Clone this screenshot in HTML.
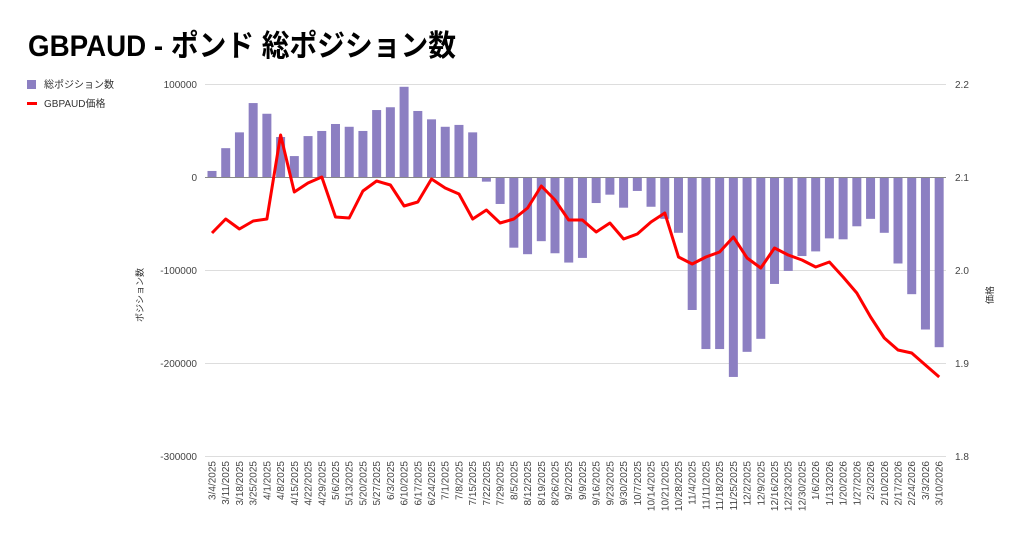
<!DOCTYPE html>
<html><head><meta charset="utf-8"><style>
body{margin:0;background:#fff;width:1024px;height:540px;overflow:hidden;font-family:"Liberation Sans","Noto Sans CJK JP",sans-serif}
</style></head><body>
<svg id="c" width="1024" height="540" xmlns="http://www.w3.org/2000/svg" font-family="Liberation Sans, Noto Sans CJK JP, sans-serif">
<text x="28" y="56" font-size="30" font-weight="bold" fill="#000" textLength="428" lengthAdjust="spacingAndGlyphs">GBPAUD - ポンド 総ポジション数</text>
<rect x="27" y="80" width="9" height="9" fill="#8c7fc2"/>
<text x="44" y="88" font-size="10" fill="#333">総ポジション数</text>
<rect x="27" y="102" width="10" height="3" fill="#f00"/>
<text x="44" y="107" font-size="10" fill="#333">GBPAUD価格</text>
<g stroke="#ddd" stroke-width="1">
<line x1="205" x2="946" y1="84.5" y2="84.5"/>
<line x1="205" x2="946" y1="270.5" y2="270.5"/>
<line x1="205" x2="946" y1="363.5" y2="363.5"/>
<line x1="205" x2="946" y1="456.5" y2="456.5"/>
</g>
<g font-size="10" fill="#444" text-anchor="end">
<text x="197" y="88">100000</text><text x="197" y="181">0</text><text x="197" y="274">-100000</text><text x="197" y="367">-200000</text><text x="197" y="460">-300000</text>
</g>
<g font-size="10" fill="#444">
<text x="955" y="88">2.2</text><text x="955" y="181">2.1</text><text x="955" y="274">2.0</text><text x="955" y="367">1.9</text><text x="955" y="460">1.8</text>
</g>
<text transform="translate(143,295) rotate(-90)" font-size="9" fill="#333" text-anchor="middle">ポジション数</text>
<text transform="translate(993,295) rotate(-90)" font-size="9" fill="#333" text-anchor="middle">価格</text>
<g id="bars" fill="#8c7fc2"></g>
<line x1="205" x2="946" y1="177.5" y2="177.5" stroke="#888" stroke-width="1"/>
<polyline id="ln" fill="none" stroke="#f00" stroke-width="3" stroke-linejoin="round"/>
<g id="lbl" font-size="10" fill="#444" text-anchor="end"></g>
</svg>
<script>
var v=[6500,31000,48000,79500,68000,43000,22500,44000,49500,57000,54000,49500,72000,75000,97000,71000,62000,54000,56000,48000,
-5000,-29000,-76000,-83000,-69000,-82000,-92000,-87000,-28000,-19000,-33000,-15000,-32000,-45000,-60000,-143000,-185000,-185000,-215000,-188000,
-174000,-115000,-101000,-85000,-80000,-66000,-67000,-53000,-45000,-60000,-93000,-126000,-164000,-183000];
var ly=[233,219,229,221,219,135,192,183,177,217,218,191,181,185,206,202,179,188,194,219,210,223,219,208,186,200,220,220,232,223,239,234,222,213,257,264,257,252,237,258,268,248,255,260,267,262,277,293,317,338,350,353,365,377];
var ns="http://www.w3.org/2000/svg",b=document.getElementById('bars'),l=document.getElementById('lbl');
var d=new Date(2025,2,4),pts=[];
for(var i=0;i<54;i++){
 var x=212+i*13.72,y0=177,h=v[i]/100000*93;
 var r=document.createElementNS(ns,'rect');
 r.setAttribute('x',x-4.5);r.setAttribute('width',9);
 r.setAttribute('y',h>0?y0-h:y0);r.setAttribute('height',Math.abs(h));
 b.appendChild(r);
 pts.push(x.toFixed(1)+','+ly[i]);
 var t=document.createElementNS(ns,'text');
 t.setAttribute('transform','translate('+(x+3.5)+',461) rotate(-90)');
 t.textContent=(d.getMonth()+1)+'/'+d.getDate()+'/'+d.getFullYear();
 l.appendChild(t);
 d.setDate(d.getDate()+7);
}
document.getElementById('ln').setAttribute('points',pts.join(' '));
</script>
</body></html>
